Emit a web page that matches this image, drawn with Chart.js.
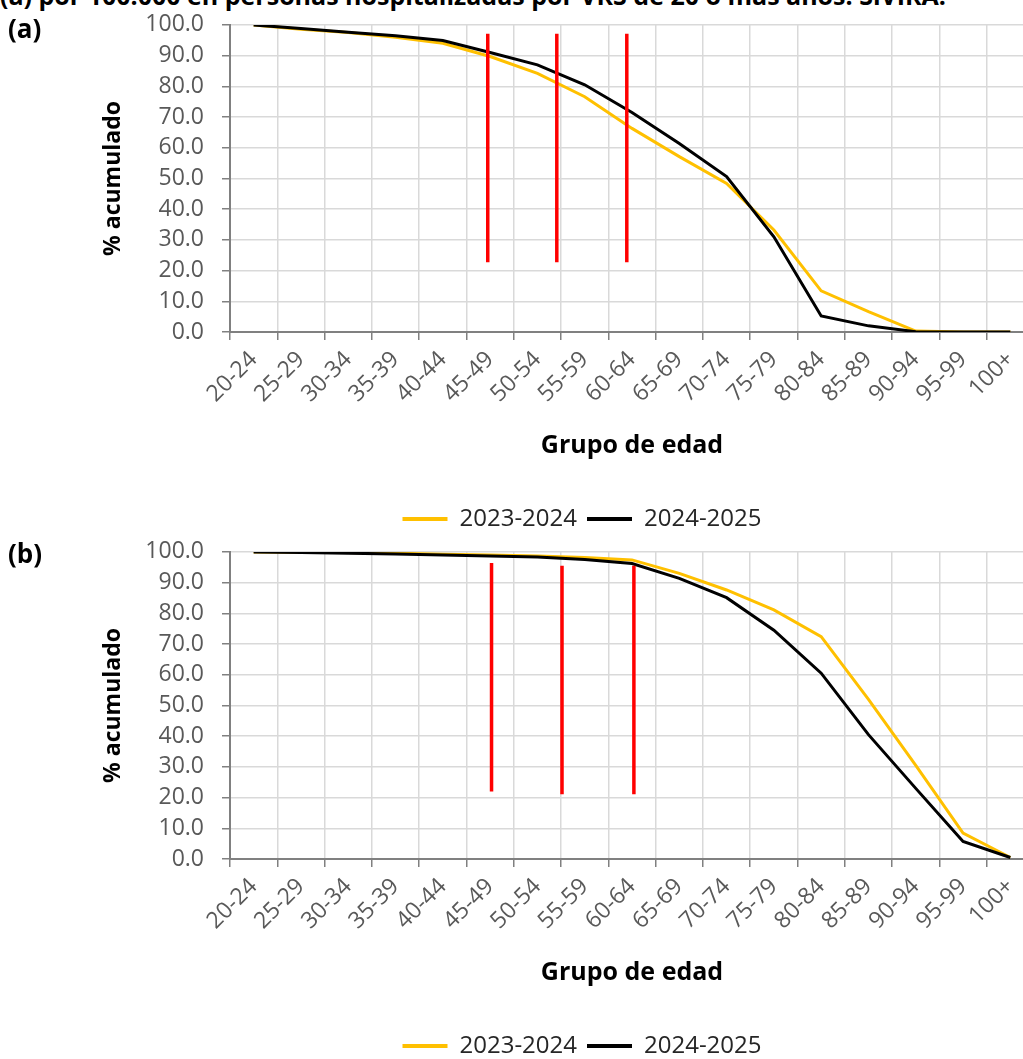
<!DOCTYPE html>
<html lang="es">
<head>
<meta charset="utf-8">
<title>% acumulado por grupo de edad</title>
<script src="https://cdn.jsdelivr.net/npm/chart.js@4.4.1/dist/chart.umd.min.js"></script>
<style>
  html, body { margin: 0; padding: 0; background: #fff; }
  #page { position: relative; width: 1023px; height: 1059px; overflow: hidden; font-family: 'Open Sans', sans-serif; }
  .box { position: absolute; left: 0; width: 1164px; height: 541px; }
  #boxA { top: 0; }
  #boxB { top: 527px; }
  .tag { position: absolute; left: 8px; font-weight: bold; font-size: 26px; color: #000; line-height: 1; }
  #head { position: absolute; left: 0; top: -22px; font-weight: bold; font-size: 25px; white-space: nowrap; color: #000; }
</style>
</head>
<body>
<div id="page">
  <div id="head">(a) por 100.000 en personas hospitalizadas por VRS de 20 o más años. SiVIRA.</div>
  <div class="box" id="boxA"><canvas id="chartA"></canvas></div>
  <div class="box" id="boxB"><canvas id="chartB"></canvas></div>
  <div class="tag" style="top:15px">(a)</div>
  <div class="tag" style="top:540px">(b)</div>
</div>
<script>
const grupos = ['20-24', '25-29', '30-34', '35-39', '40-44', '45-49', '50-54', '55-59', '60-64',
  '65-69', '70-74', '75-79', '80-84', '85-89', '90-94', '95-99', '100+'];
const temporadas = ['2023-2024', '2024-2025'];

// (a)
const serieA2324 = [100, 98.6, 97.5, 96.0, 94.0, 89.7, 84.2, 76.6, 66.3, 57.1, 48.4, 33.2, 13.4, 6.6, 0.3, 0, 0];
const serieA2425 = [100, 98.8, 97.6, 96.5, 94.9, 91.0, 87.0, 80.5, 71.5, 61.4, 50.6, 31.0, 5.2, 2.0, 0.1, 0, 0];
// (b)
const serieB2324 = [100, 99.9, 99.8, 99.6, 99.2, 99.0, 98.7, 98.2, 97.4, 93.0, 87.6, 81.1, 72.4, 52.0, 30.5, 8.4, 0.5];
const serieB2425 = [100, 99.8, 99.6, 99.3, 99.0, 98.7, 98.3, 97.5, 96.2, 91.4, 85.1, 74.5, 60.5, 40.5, 23.0, 5.7, 0.5];

// red marker lines: position on the category index scale, top and bottom value
const marcasA_x = [4.95, 6.41, 7.89];
const marcasA_top = [97.1, 97.1, 97.1];
const marcasA_bottom = [22.7, 22.7, 22.7];
const marcasB_x = [5.03, 6.52, 8.04];
const marcasB_top = [96.4, 95.5, 95.5];
const marcasB_bottom = [22.0, 21.1, 21.1];

const yTicks = [0, 10, 20, 30, 40, 50, 60, 70, 80, 90, 100];

const FONT = "'Open Sans', sans-serif";
Chart.defaults.font.family = FONT;

const baseLabels = Chart.defaults.plugins.legend.labels.generateLabels;

function makeChart(id, s2324, s2425, mx, mTop, mBottom) {
  const datasets = [
    { label: temporadas[0], data: s2324, borderColor: '#ffc000', backgroundColor: '#ffc000', borderWidth: 3, pointRadius: 0, tension: 0, order: 3 },
    { label: temporadas[1], data: s2425, borderColor: '#000000', backgroundColor: '#000000', borderWidth: 3, pointRadius: 0, tension: 0, order: 2 }
  ];
  mx.forEach((x, i) => {
    datasets.push({
      label: '', xAxisID: 'x2', order: 1,
      data: [{ x: x, y: mTop[i] }, { x: x, y: mBottom[i] }],
      borderColor: '#ff0000', borderWidth: 3.5, pointRadius: 0
    });
  });

  return new Chart(document.getElementById(id), {
    type: 'line',
    data: { labels: grupos, datasets: datasets },
    options: {
      responsive: true,
      maintainAspectRatio: false,
      animation: false,
      layout: { padding: { top: 0, right: 0, bottom: 0, left: 0 } },
      plugins: {
        tooltip: { enabled: false },
        legend: {
          position: 'bottom',
          labels: {
            boxWidth: 45,
            boxHeight: 4,
            padding: 10,
            color: '#262626',
            font: { size: 24 },
            filter: (item) => item.datasetIndex < 2,
            sort: (a, b) => a.datasetIndex - b.datasetIndex,
            generateLabels: (c) => baseLabels(c).map(it => Object.assign(it, { lineWidth: 0 }))
          }
        }
      },
      scales: {
        x: {
          type: 'category',
          offset: true,
          grid: { offset: true, color: '#d9d9d9', lineWidth: 1.5, tickLength: 8, tickColor: '#808080' },
          border: { color: '#808080', width: 2 },
          ticks: { color: '#595959', font: { size: 23 }, minRotation: 45, maxRotation: 45, autoSkip: false, padding: 6 },
          title: { display: true, text: 'Grupo de edad', color: '#000', font: { size: 25, weight: 'bold' }, padding: { top: 0, bottom: 36 } },
          afterFit: (s) => { s.height = 165; }
        },
        x2: { type: 'linear', display: false, min: -0.5, max: 16.5 },
        y: {
          min: 0,
          max: 100,
          afterBuildTicks: (s) => { s.ticks = yTicks.map(v => ({ value: v })); },
          ticks: { color: '#595959', font: { size: 23, lineHeight: 0.6 }, padding: 18, autoSkip: false, callback: (v) => Number(v).toFixed(1) },
          grid: { color: '#d9d9d9', lineWidth: 1.5, tickLength: 8, tickColor: '#808080' },
          border: { color: '#808080', width: 2 },
          title: { display: true, text: '% acumulado', color: '#000', font: { size: 23, weight: 'bold' }, padding: { top: 100, bottom: 0 } },
          afterFit: (s) => { s.width = 230; }
        },
        // empty right axis: keeps the plot area ending at the page edge
        yR: {
          position: 'right',
          display: true,
          ticks: { display: false },
          grid: { display: false },
          border: { display: false },
          afterFit: (s) => { s.width = 130; }
        }
      }
    }
  });
}

makeChart('chartA', serieA2324, serieA2425, marcasA_x, marcasA_top, marcasA_bottom);
makeChart('chartB', serieB2324, serieB2425, marcasB_x, marcasB_top, marcasB_bottom);
</script>
</body>
</html>
